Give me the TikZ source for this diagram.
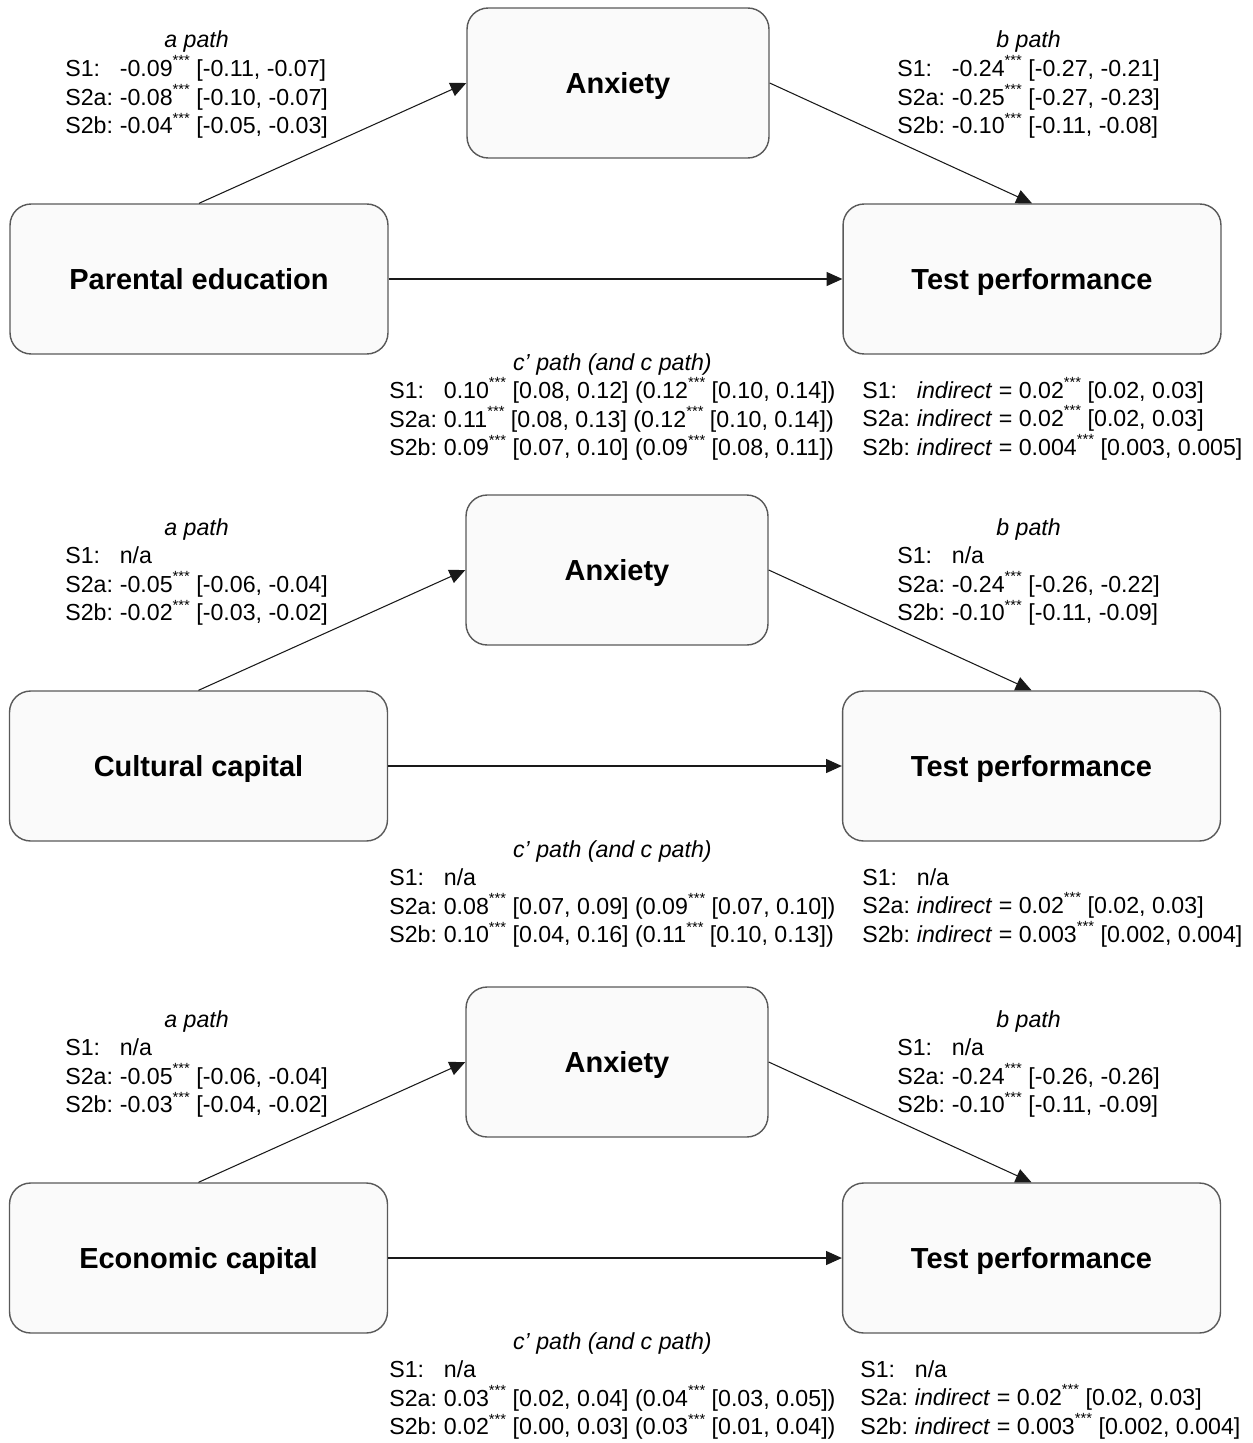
\documentclass[tikz,border=0pt]{standalone}
\usepackage{fontspec}
\setmainfont{Liberation Sans}
\usepackage{xcolor}
\usepackage{tikz}
\usetikzlibrary{arrows.meta}

\newcommand{\stars}{\raisebox{0.47em}[0pt][0pt]{\fontsize{8.4}{8.4}\selectfont ***}}
\newcommand{\sname}[1]{\makebox[2.35em][l]{#1}}

\begin{document}
\begin{tikzpicture}[x=0.02cm, y=-0.02cm,
    box/.style={draw=gray!70!black, line width=0.8pt, fill=gray!4, rounded corners=12pt,
        minimum height=3cm, text height=11.8pt, text depth=0pt,
        font=\fontsize{16.5}{20}\selectfont\bfseries},
    widebox/.style={box, minimum width=7.56cm},
    anxbox/.style={box, minimum width=6.04cm},
    pathlabel/.style={anchor=base west, inner sep=0pt, font=\fontsize{13.2}{16.3}\selectfont},
    link/.style={draw=gray!20!black, line width=0.6pt, -{Triangle[length=9pt,width=8pt]}}]
    \useasboundingbox (0,0) rectangle (1252,1443);

    % Bloco 1 - Parental education
    \node[anxbox] (anx1) at (618,83) {Anxiety};
    \node[widebox] (pe) at (199,279) {Parental education};
    \node[widebox] (tp1) at (1032,279) {Test performance};
    \draw[link] (pe.north) -- (anx1.west);
    \draw[link] (anx1.east) -- (tp1.north);
    \draw[link] (pe.east) -- (tp1.west);

    \node[pathlabel] (apath1) at (65,48) {\begin{tabular}[t]{@{}l@{}}
        \multicolumn{1}{@{}c@{}}{\textit{a path}}\\
        \sname{S1:}-0.09\stars{} [-0.11, -0.07]\\
        \sname{S2a:}-0.08\stars{} [-0.10, -0.07]\\
        \sname{S2b:}-0.04\stars{} [-0.05, -0.03]
    \end{tabular}};
    \node[pathlabel] (bpath1) at (897,48) {\begin{tabular}[t]{@{}l@{}}
        \multicolumn{1}{@{}c@{}}{\textit{b path}}\\
        \sname{S1:}-0.24\stars{} [-0.27, -0.21]\\
        \sname{S2a:}-0.25\stars{} [-0.27, -0.23]\\
        \sname{S2b:}-0.10\stars{} [-0.11, -0.08]
    \end{tabular}};
    \node[pathlabel] (cpath1) at (389,370) {\begin{tabular}[t]{@{}l@{}}
        \multicolumn{1}{@{}c@{}}{\textit{c’ path (and c path)}}\\
        \sname{S1:}0.10\stars{} [0.08, 0.12] (0.12\stars{} [0.10, 0.14])\\
        \sname{S2a:}0.11\stars{} [0.08, 0.13] (0.12\stars{} [0.10, 0.14])\\
        \sname{S2b:}0.09\stars{} [0.07, 0.10] (0.09\stars{} [0.08, 0.11])
    \end{tabular}};
    \node[pathlabel] (ind1) at (862,398) {\begin{tabular}[t]{@{}l@{}}
        \sname{S1:}\textit{indirect} = 0.02\stars{} [0.02, 0.03]\\
        \sname{S2a:}\textit{indirect} = 0.02\stars{} [0.02, 0.03]\\
        \sname{S2b:}\textit{indirect} = 0.004\stars{} [0.003, 0.005]
    \end{tabular}};

    % Bloco 2 - Cultural capital
    \node[anxbox] (anx2) at (617,570) {Anxiety};
    \node[widebox] (cc) at (198.5,766) {Cultural capital};
    \node[widebox] (tp2) at (1031.5,766) {Test performance};
    \draw[link] (cc.north) -- (anx2.west);
    \draw[link] (anx2.east) -- (tp2.north);
    \draw[link] (cc.east) -- (tp2.west);

    \node[pathlabel] (apath2) at (65,535) {\begin{tabular}[t]{@{}l@{}}
        \multicolumn{1}{@{}c@{}}{\textit{a path}}\\
        \sname{S1:}n/a\\
        \sname{S2a:}-0.05\stars{} [-0.06, -0.04]\\
        \sname{S2b:}-0.02\stars{} [-0.03, -0.02]
    \end{tabular}};
    \node[pathlabel] (bpath2) at (897,535) {\begin{tabular}[t]{@{}l@{}}
        \multicolumn{1}{@{}c@{}}{\textit{b path}}\\
        \sname{S1:}n/a\\
        \sname{S2a:}-0.24\stars{} [-0.26, -0.22]\\
        \sname{S2b:}-0.10\stars{} [-0.11, -0.09]
    \end{tabular}};
    \node[pathlabel] (cpath2) at (389,857) {\begin{tabular}[t]{@{}l@{}}
        \multicolumn{1}{@{}c@{}}{\textit{c’ path (and c path)}}\\
        \sname{S1:}n/a\\
        \sname{S2a:}0.08\stars{} [0.07, 0.09] (0.09\stars{} [0.07, 0.10])\\
        \sname{S2b:}0.10\stars{} [0.04, 0.16] (0.11\stars{} [0.10, 0.13])
    \end{tabular}};
    \node[pathlabel] (ind2) at (862,885) {\begin{tabular}[t]{@{}l@{}}
        \sname{S1:}n/a\\
        \sname{S2a:}\textit{indirect} = 0.02\stars{} [0.02, 0.03]\\
        \sname{S2b:}\textit{indirect} = 0.003\stars{} [0.002, 0.004]
    \end{tabular}};

    % Bloco 3 - Economic capital
    \node[anxbox] (anx3) at (617,1062) {Anxiety};
    \node[widebox] (ec) at (198.5,1258) {Economic capital};
    \node[widebox] (tp3) at (1031.5,1258) {Test performance};
    \draw[link] (ec.north) -- (anx3.west);
    \draw[link] (anx3.east) -- (tp3.north);
    \draw[link] (ec.east) -- (tp3.west);

    \node[pathlabel] (apath3) at (65,1027) {\begin{tabular}[t]{@{}l@{}}
        \multicolumn{1}{@{}c@{}}{\textit{a path}}\\
        \sname{S1:}n/a\\
        \sname{S2a:}-0.05\stars{} [-0.06, -0.04]\\
        \sname{S2b:}-0.03\stars{} [-0.04, -0.02]
    \end{tabular}};
    \node[pathlabel] (bpath3) at (897,1027) {\begin{tabular}[t]{@{}l@{}}
        \multicolumn{1}{@{}c@{}}{\textit{b path}}\\
        \sname{S1:}n/a\\
        \sname{S2a:}-0.24\stars{} [-0.26, -0.26]\\
        \sname{S2b:}-0.10\stars{} [-0.11, -0.09]
    \end{tabular}};
    \node[pathlabel] (cpath3) at (389,1349) {\begin{tabular}[t]{@{}l@{}}
        \multicolumn{1}{@{}c@{}}{\textit{c’ path (and c path)}}\\
        \sname{S1:}n/a\\
        \sname{S2a:}0.03\stars{} [0.02, 0.04] (0.04\stars{} [0.03, 0.05])\\
        \sname{S2b:}0.02\stars{} [0.00, 0.03] (0.03\stars{} [0.01, 0.04])
    \end{tabular}};
    \node[pathlabel] (ind3) at (860,1377) {\begin{tabular}[t]{@{}l@{}}
        \sname{S1:}n/a\\
        \sname{S2a:}\textit{indirect} = 0.02\stars{} [0.02, 0.03]\\
        \sname{S2b:}\textit{indirect} = 0.003\stars{} [0.002, 0.004]
    \end{tabular}};
\end{tikzpicture}
\end{document}
